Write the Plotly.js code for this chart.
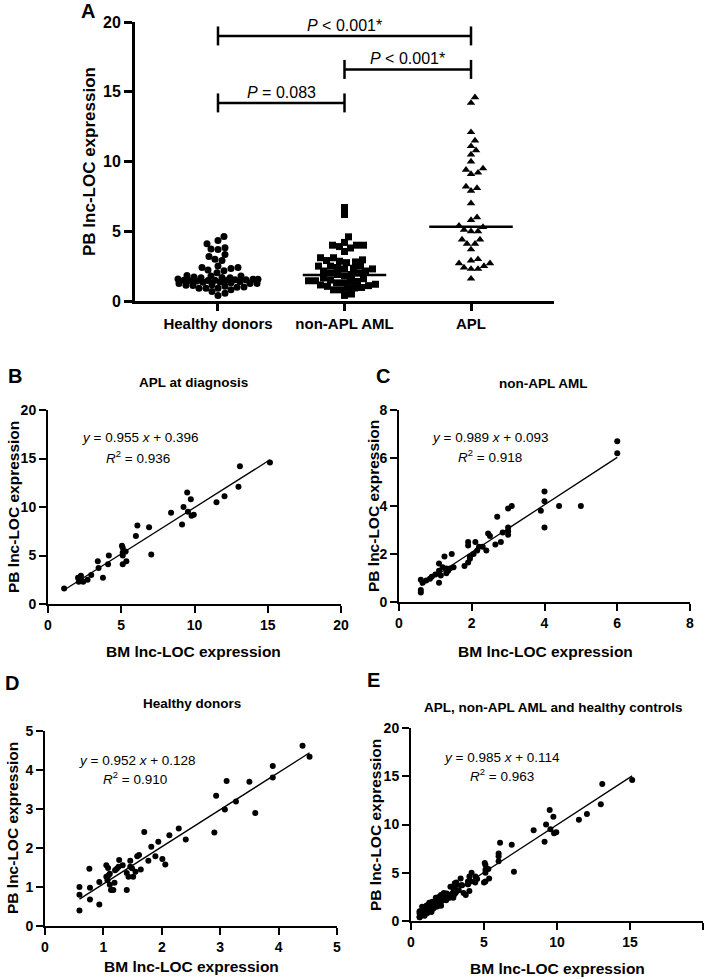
<!DOCTYPE html>
<html>
<head>
<meta charset="utf-8">
<script src="https://cdn.plot.ly/plotly-3.0.1.min.js"></script>
<style>body{margin:0;background:#fff}</style>
</head>
<body>
<div id="myDiv" style="width:708px;height:979px"></div>
<script>
// panel A groups
var groups = ['Healthy donors', 'non-APL AML', 'APL'];
var medians = [1.43, 1.86, 5.33];
var bracketFrom = [0, 1, 0];
var bracketTo = [2, 2, 1];
var bracketY = [19.0, 16.6, 14.2];
var bracketText = ['<i>P</i> < 0.001*', '<i>P</i> < 0.001*', '<i>P</i> = 0.083'];

// APL at diagnosis (BM vs PB)
var aplBM = [1.1, 2.05, 2.25, 2.4, 2.1, 2.3, 2.7, 2.95, 3.4, 3.45, 3.75, 4.1, 4.15,
  5.05, 5.1, 5.1, 5.1, 5.1, 5.3, 5.35, 6.0, 6.1, 6.9, 7.05,
  8.4, 9.15, 9.25, 9.5, 9.55, 9.75, 9.8, 9.95, 11.5, 12.05, 13.0, 13.1, 15.15];
var aplPB = [1.6, 2.7, 2.9, 2.3, 2.3, 2.4, 2.5, 3.0, 4.4, 3.7, 2.7, 4.1, 5.0,
  6.0, 5.8, 5.3, 5.0, 4.1, 5.4, 4.4, 7.0, 8.1, 7.9, 5.1,
  9.4, 8.2, 10.0, 11.5, 9.5, 10.8, 9.1, 9.2, 10.5, 11.1, 12.1, 14.2, 14.6];

// non-APL AML
var amlBM = [6.0, 6.0, 4.0, 4.0, 4.0, 3.9, 4.4, 5.0, 3.0, 3.1, 2.7, 3.0, 3.0, 3.0, 2.85,
  2.45, 2.5, 2.65, 2.8, 2.4, 2.3, 1.9, 1.9, 2.1, 2.2, 2.15, 2.05, 1.95, 1.9, 1.8, 1.95,
  1.45, 1.25, 1.1, 1.1, 1.15, 1.1, 1.3, 1.4, 1.5, 1.2, 1.3, 1.35,
  0.9, 1.0, 0.85, 0.75, 0.65, 0.6, 0.6, 0.6];
var amlPB = [6.7, 6.2, 4.6, 4.2, 3.1, 3.8, 4.0, 4.0, 3.9, 4.0, 3.55, 3.1, 2.95, 2.8, 2.9,
  2.85, 2.75, 2.4, 2.5, 2.15, 2.3, 2.5, 2.35, 2.5, 2.3, 2.15, 2.0, 1.8, 1.65, 1.5, 1.9,
  2.0, 1.9, 1.6, 1.3, 1.1, 0.8, 1.2, 1.4, 1.45, 1.45, 1.4, 1.3,
  1.05, 1.15, 0.97, 0.9, 0.8, 0.93, 0.5, 0.4];

// healthy donors
var hdBM = [4.41, 4.53, 3.9, 3.9, 3.5, 3.11, 2.93, 3.08, 3.27, 3.6, 2.9,
  2.29, 2.41, 2.13, 1.94, 1.82, 1.7, 1.89, 2.01, 2.06,
  1.61, 1.58, 1.77, 1.64, 1.46, 1.46, 1.43, 1.51, 1.55, 1.49, 1.4, 1.33, 1.27, 1.26, 1.23, 1.2,
  1.05, 1.08, 1.05, 1.09, 1.11, 1.07, 1.11, 1.13, 1.19, 1.17, 1.4,
  0.76, 0.77, 0.77, 0.93, 0.93, 0.59, 0.59, 0.59];
var hdPB = [4.62, 4.34, 4.1, 3.81, 3.7, 3.72, 3.34, 2.99, 3.19, 2.9, 2.4,
  2.5, 2.22, 2.33, 2.16, 2.03, 2.41, 1.79, 1.72, 1.58,
  1.82, 1.79, 1.67, 1.45, 1.67, 1.52, 1.26, 1.26, 1.39, 1.48, 1.36, 1.56, 1.69, 1.52, 1.47, 1.43,
  1.56, 1.49, 1.26, 1.3, 1.34, 1.17, 1.06, 0.92, 1.11, 0.92, 0.92,
  1.47, 0.98, 0.68, 1.13, 0.55, 1.0, 0.8, 0.4];

var fitSlope = [0.955, 0.989, 0.952, 0.985];
var fitInt = [0.396, 0.093, 0.128, 0.114];
var fitR2 = ['0.936', '0.918', '0.910', '0.963'];
var panelTitles = ['APL at diagnosis', 'non-APL AML', 'Healthy donors', 'APL, non-APL AML and healthy controls'];

var W = 708, H = 979;
var FONT = 'Liberation Sans, Arial, sans-serif';
function fx(p) { return p / W; }
function fy(p) { return 1 - p / H; }

// beeswarm offsets in pixels, kept inside +-maxHalf
function swarm(vals, sy, d, maxHalf) {
    var idx = vals.map(function (v, i) { return i; }).sort(function (a, b) { return vals[a] - vals[b]; });
    var placed = [], off = [];
    function minDist(cx, y) {
        var m = Infinity;
        placed.forEach(function (p) { m = Math.min(m, Math.hypot(p[0] - cx, p[1] - y)); });
        return m;
    }
    idx.forEach(function (i) {
        var y = vals[i] * sy, best = null, bestD = -1, bestC = 0;
        for (var k = 0; k <= maxHalf && best === null; k++) {
            var cands = k === 0 ? [0] : [k, -k];
            for (var c = 0; c < cands.length; c++) {
                var md = minDist(cands[c], y);
                if (md >= d) { best = cands[c]; break; }
                if (md > bestD) { bestD = md; bestC = cands[c]; }
            }
        }
        if (best === null) best = bestC;
        placed.push([best, y]);
        off[i] = best;
    });
    return off;
}

var data = [];
var pxPerCat = 126.5, pxPerY = 13.95;
var groupVals = [hdPB, amlPB, aplPB];
var symbols = ['circle', 'square', 'triangle-up'];
groupVals.forEach(function (vals, g) {
    var off = swarm(vals, pxPerY, 6.5, 40);
    data.push({
        x: off.map(function (o) { return g + o / pxPerCat; }), y: vals,
        type: 'scatter', mode: 'markers', xaxis: 'x', yaxis: 'y',
        marker: {symbol: symbols[g], size: g === 2 ? 7.5 : 7, color: '#000'}
    });
    data.push({
        x: [g - 0.33, g + 0.33], y: [medians[g], medians[g]],
        type: 'scatter', mode: 'lines', xaxis: 'x', yaxis: 'y',
        line: {color: '#000', width: 2.5}
    });
});

var scatterSets = [[aplBM, aplPB], [amlBM, amlPB], [hdBM, hdPB],
    [aplBM.concat(amlBM, hdBM), aplPB.concat(amlPB, hdPB)]];
scatterSets.forEach(function (s, i) {
    var ax = String(i + 2);
    data.push({
        x: s[0], y: s[1], type: 'scatter', mode: 'markers',
        xaxis: 'x' + ax, yaxis: 'y' + ax,
        marker: {size: 6, color: '#000'}
    });
    var x0 = Math.min.apply(null, s[0]), x1 = Math.max.apply(null, s[0]);
    data.push({
        x: [x0, x1], y: [fitSlope[i] * x0 + fitInt[i], fitSlope[i] * x1 + fitInt[i]],
        type: 'scatter', mode: 'lines', xaxis: 'x' + ax, yaxis: 'y' + ax,
        line: {color: '#000', width: 1.3}
    });
});

function axis(dom, range, dtick, lw, fs, tl, anchor) {
    var tv = [];
    for (var v = range[0]; v <= range[1] + 1e-9; v += dtick) tv.push(v);
    return {
        domain: dom, range: range, anchor: anchor,
        tickvals: tv, ticktext: tv.map(function (v) { return '<b>' + v + '</b>'; }),
        showline: true, linewidth: lw, linecolor: '#000', mirror: false,
        ticks: 'outside', ticklen: tl, tickwidth: lw, tickcolor: '#000',
        showgrid: false, zeroline: false, fixedrange: true,
        tickfont: {family: FONT, size: fs, color: '#000'}
    };
}

var layout = {
    width: W, height: H, margin: {l: 0, r: 0, t: 0, b: 0},
    paper_bgcolor: '#fff', plot_bgcolor: '#fff', showlegend: false,
    font: {family: FONT, color: '#000'},
    xaxis: Object.assign(axis([fx(135), fx(554)], [-0.656, 2.656], 1, 3, 15, 7, 'y'),
        {tickvals: [0, 1, 2], ticktext: groups.map(function (g) { return '<b>' + g + '</b>'; })}),
    yaxis: axis([fy(301), fy(22)], [0, 20], 5, 3, 16, 8, 'x'),
    xaxis2: axis([fx(48), fx(341)], [0, 20], 5, 2, 14, 7, 'y2'),
    yaxis2: axis([fy(604), fy(410)], [0, 20], 5, 2, 14, 7, 'x2'),
    xaxis3: axis([fx(399), fx(690)], [0, 8], 2, 2, 14, 7, 'y3'),
    yaxis3: axis([fy(602), fy(410)], [0, 8], 2, 2, 14, 7, 'x3'),
    xaxis4: axis([fx(45), fx(337)], [0, 5], 1, 2, 14, 7, 'y4'),
    yaxis4: axis([fy(926), fy(731)], [0, 5], 1, 2, 14, 7, 'x4'),
    xaxis5: axis([fx(411), fx(703)], [0, 20], 5, 2, 14, 7, 'y5'),
    yaxis5: axis([fy(921), fy(728)], [0, 20], 5, 2, 14, 7, 'x5'),
    shapes: [], annotations: []
};

// significance brackets
bracketY.forEach(function (y, i) {
    var a = bracketFrom[i], b = bracketTo[i], h = 0.68;
    [[a, y, b, y], [a, y - h, a, y + h], [b, y - h, b, y + h]].forEach(function (l) {
        layout.shapes.push({type: 'line', xref: 'x', yref: 'y', x0: l[0], y0: l[1], x1: l[2], y1: l[3],
            line: {color: '#000', width: 2.5}});
    });
    layout.annotations.push({xref: 'x', yref: 'y', x: (a + b) / 2, y: y, yanchor: 'bottom', yshift: 0,
        text: bracketText[i], showarrow: false, font: {family: FONT, size: 16, color: '#000'}});
});

function txt(px, py, text, size, bold, angle) {
    layout.annotations.push({xref: 'paper', yref: 'paper', x: fx(px), y: fy(py),
        xanchor: 'center', yanchor: 'middle', text: bold ? '<b>' + text + '</b>' : text,
        showarrow: false, textangle: angle || 0,
        font: {family: FONT, size: size, color: '#000'}});
}

// panel letters
txt(88, 11, 'A', 20, true);
txt(15, 376, 'B', 20, true);
txt(383, 376, 'C', 20, true);
txt(12, 683, 'D', 20, true);
txt(373, 680, 'E', 20, true);

// axis titles
txt(90, 162, 'PB lnc-LOC expression', 17, true, -90);
txt(14, 507, 'PB lnc-LOC expression', 15.5, true, -90);
txt(373, 506, 'PB lnc-LOC expression', 15.5, true, -90);
txt(12, 828, 'PB lnc-LOC expression', 15.5, true, -90);
txt(375, 825, 'PB lnc-LOC expression', 15.5, true, -90);
txt(194, 651, 'BM lnc-LOC expression', 15.5, true);
txt(545, 651, 'BM lnc-LOC expression', 15.5, true);
txt(191, 966, 'BM lnc-LOC expression', 15.5, true);
txt(557, 968, 'BM lnc-LOC expression', 15.5, true);

// panel titles
txt(193, 382, panelTitles[0], 13.5, true);
txt(543, 383, panelTitles[1], 13.5, true);
txt(192, 703, panelTitles[2], 13.5, true);
txt(553, 707, panelTitles[3], 13.5, true);

// regression equations
var eqPos = [[140, 438, 138, 457], [490, 437, 490, 456], [137, 760, 135, 778], [502, 757, 502, 775]];
eqPos.forEach(function (p, i) {
    txt(p[0], p[1], '<i>y</i> = ' + fitSlope[i].toFixed(3) + ' <i>x</i> + ' + fitInt[i].toFixed(3), 13.5, false);
    txt(p[2], p[3], '<i>R</i><sup>2</sup> = ' + fitR2[i], 13.5, false);
});

Plotly.newPlot('myDiv', data, layout, {staticPlot: true});
</script>
</body>
</html>
